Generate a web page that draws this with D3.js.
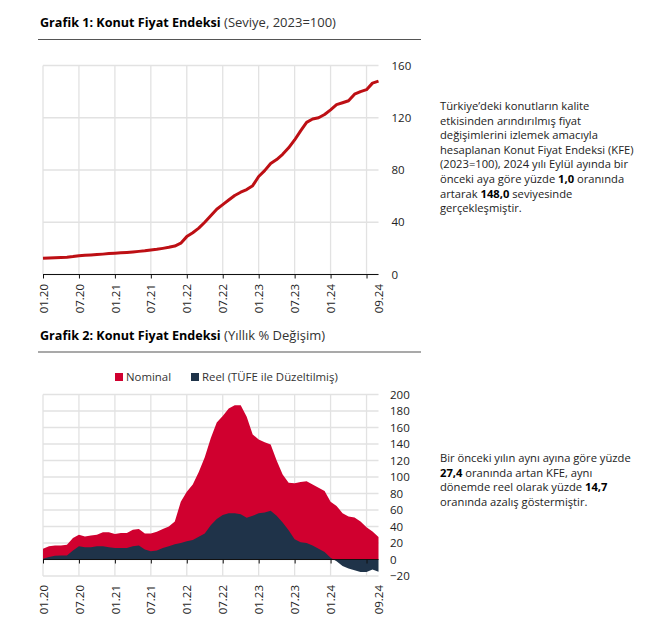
<!DOCTYPE html>
<html lang="en">

<head>
    <meta charset="UTF-8">
    <title>Konut Fiyat Endeksi</title>
    <style>
        body {
            margin: 0;
            background: #fff;
        }

        #page {
            position: relative;
            width: 669px;
            height: 629px;
            overflow: hidden;
            font-family: "Open Sans", sans-serif;
            color: #111;
        }

        svg {
            position: absolute;
            left: 0;
            top: 0;
        }

        .heading {
            position: absolute;
            left: 40px;
            font-size: 13px;
            color: #333;
            white-space: nowrap;
        }

        .heading b {
            color: #000;
            font-size: 12.6px;
        }

        .note {
            position: absolute;
            left: 440px;
            font-size: 11.2px;
            line-height: 14.6px;
            white-space: nowrap;
            color: #222;
        }

        .note b {
            color: #000;
        }

        .grid line {
            stroke: #e2e2e2;
            stroke-width: 1.3px;
        }

        .grid path {
            display: none;
        }

        .tick text {
            font-family: "Open Sans", sans-serif;
            font-size: 11.5px;
            fill: #222;
        }

        .legend text {
            font-size: 11.4px;
            fill: #333;
        }
    </style>
</head>

<body>
    <div id="page">
        <svg id="charts" width="669" height="629"></svg>
        <div class="heading" style="top:13px"><b>Grafik 1: Konut Fiyat Endeksi</b> (Seviye, 2023=100)</div>
        <div class="heading" style="top:326px"><b>Grafik 2: Konut Fiyat Endeksi</b> (Yıllık % Değişim)</div>
        <div class="note" style="top:99px">Türkiye’deki konutların kalite<br>etkisinden arındırılmış fiyat<br>değişimlerini izlemek amacıyla<br>hesaplanan Konut Fiyat Endeksi (KFE)<br>(2023=100), 2024 yılı Eylül ayında bir<br>önceki aya göre yüzde <b>1,0</b> oranında<br>artarak <b>148,0</b> seviyesinde<br>gerçekleşmiştir.</div>
        <div class="note" style="top:451px">Bir önceki yılın aynı ayına göre yüzde<br><b>27,4</b> oranında artan KFE, aynı<br>dönemde reel olarak yüzde <b>14,7</b><br>oranında azalış göstermiştir.</div>
    </div>
    <script src="https://cdnjs.cloudflare.com/ajax/libs/d3/7.9.0/d3.min.js"></script>
    <script>
        const months = [
            "01.20", "02.20", "03.20", "04.20", "05.20", "06.20", "07.20", "08.20", "09.20", "10.20", "11.20", "12.20",
            "01.21", "02.21", "03.21", "04.21", "05.21", "06.21", "07.21", "08.21", "09.21", "10.21", "11.21", "12.21",
            "01.22", "02.22", "03.22", "04.22", "05.22", "06.22", "07.22", "08.22", "09.22", "10.22", "11.22", "12.22",
            "01.23", "02.23", "03.23", "04.23", "05.23", "06.23", "07.23", "08.23", "09.23", "10.23", "11.23", "12.23",
            "01.24", "02.24", "03.24", "04.24", "05.24", "06.24", "07.24", "08.24", "09.24"
        ];
        const tickMonths = ["01.20", "07.20", "01.21", "07.21", "01.22", "07.22", "01.23", "07.23", "01.24", "07.24"];
        const labelMonths = ["01.20", "07.20", "01.21", "07.21", "01.22", "07.22", "01.23", "07.23", "01.24", "09.24"];

        const indexValues = [
            12.5, 12.7, 12.9, 13.0, 13.2, 13.7, 14.4, 14.8, 15.0, 15.3, 15.6, 16.0,
            16.3, 16.6, 16.9, 17.3, 17.7, 18.1, 18.8, 19.3, 20.0, 20.8, 21.8, 24.0,
            29.0, 32.0, 35.5, 40.0, 45.0, 50.0, 53.5, 57.0, 60.5, 63.0, 65.0, 68.0,
            75.0, 79.5, 85.0, 88.0, 92.0, 97.0, 103.0, 110.0, 116.5, 119.0, 120.0, 122.5,
            126.0, 130.0, 131.5, 133.0, 138.0, 140.0, 141.5, 146.5, 148.0
        ];
        const nominalValues = [
            13, 16, 17, 17, 18, 26, 30, 28, 29, 30, 33, 33,
            31, 32, 32, 36, 37, 31.5, 31.5, 33.5, 37, 40, 46, 70,
            82, 91, 106, 124, 147, 166, 174, 183, 187, 187, 173, 151.5,
            145.5, 142, 139.5, 120, 103, 93, 92.5, 94, 95, 91, 87, 83,
            70, 65, 56, 52, 51, 46, 39, 34, 27.4
        ];
        const realValues = [
            1, 3, 4.5, 5, 5, 11, 16, 15, 15, 16, 16, 15,
            14, 14, 14, 16, 17, 12, 10, 11, 14, 16, 18.5, 20,
            22, 23.5, 27.5, 31.5, 41.5, 49, 54, 56, 56, 55, 50.5, 53,
            56, 57, 59, 53, 45, 35.5, 24.5, 21, 20, 17, 13, 9,
            2, -2, -8, -11, -13, -15, -15, -12, -14.7
        ];
        const indexTicks = [0, 40, 80, 120, 160];
        const changeTicks = [-20, 0, 20, 40, 60, 80, 100, 120, 140, 160, 180, 200];
        const legendLabels = ["Nominal", "Reel (TÜFE ile Düzeltilmiş)"];

        const red = "#d0002f";
        const navy = "#1f3349";
        const svg = d3.select("#charts");

        const left = 43, right = 378.5;
        const x = d3.scalePoint().domain(months).range([left, right]);

        // heading rules
        svg.selectAll(".rule")
            .data([39.5, 352])
            .enter()
            .append("line")
            .attr("x1", 38)
            .attr("x2", 421)
            .attr("y1", d => d)
            .attr("y2", d => d)
            .attr("stroke", "#555")
            .attr("stroke-width", 1.2);

        function drawGrid(y, yTicks) {
            const [bottom, top] = y.range();
            svg.append("g")
                .attr("class", "grid")
                .selectAll("line.h")
                .data(yTicks)
                .enter()
                .append("line")
                .attr("x1", left)
                .attr("x2", right)
                .attr("y1", d => y(d))
                .attr("y2", d => y(d));
            svg.append("g")
                .attr("class", "grid")
                .selectAll("line.v")
                .data(tickMonths)
                .enter()
                .append("line")
                .attr("x1", d => x(d))
                .attr("x2", d => x(d))
                .attr("y1", bottom)
                .attr("y2", top);
        }

        function drawAxes(y, yTicks, zeroY, labelY, padding) {
            // y labels sit on the right with no axis line
            const yAxis = svg.append("g")
                .attr("transform", "translate(" + right + ",0)")
                .call(d3.axisRight(y).tickValues(yTicks).tickSize(0).tickPadding(padding));
            yAxis.select(".domain").remove();

            // base line with ticks at zero
            svg.append("g")
                .attr("transform", "translate(0," + zeroY + ")")
                .call(d3.axisBottom(x).tickValues(tickMonths).tickSize(4).tickFormat(""))
                .call(g => g.select(".domain").attr("d", "M" + left + ",0H" + right).attr("stroke", "#111"))
                .call(g => g.selectAll(".tick line").attr("stroke", "#111"));

            // rotated month labels
            svg.append("g")
                .attr("transform", "translate(0," + labelY + ")")
                .call(d3.axisBottom(x).tickValues(labelMonths).tickSize(0))
                .call(g => g.select(".domain").remove())
                .selectAll("text")
                .attr("transform", "rotate(-90)")
                .attr("text-anchor", "end")
                .attr("x", 0)
                .attr("y", 0)
                .attr("dy", "0.36em");
        }

        // Grafik 1
        const y1 = d3.scaleLinear().domain([0, 160]).range([274.5, 65.5]);
        drawGrid(y1, indexTicks);
        svg.append("path")
            .datum(indexValues)
            .attr("fill", "none")
            .attr("stroke", "#bd0f14")
            .attr("stroke-width", 3)
            .attr("stroke-linejoin", "round")
            .attr("d", d3.line().x((d, i) => x(months[i])).y(d => y1(d)));
        drawAxes(y1, indexTicks, y1(0), 284, 13);

        // Grafik 2
        const y2 = d3.scaleLinear().domain([-20, 200]).range([576, 394.5]);
        drawGrid(y2, changeTicks);
        const area = d3.area()
            .x((d, i) => x(months[i]))
            .y0(y2(0))
            .y1(d => y2(d));
        svg.append("path").datum(nominalValues).attr("fill", red).attr("d", area);
        svg.append("path").datum(realValues).attr("fill", navy).attr("d", area);
        drawAxes(y2, changeTicks, y2(0), 585, 11.5);

        // legend
        const legend = svg.append("g").attr("class", "legend");
        const legendX = [115, 191];
        legendLabels.forEach((label, i) => {
            legend.append("rect")
                .attr("x", legendX[i])
                .attr("y", 373)
                .attr("width", 8)
                .attr("height", 8)
                .attr("fill", i === 0 ? red : navy);
            legend.append("text")
                .attr("x", legendX[i] + 11)
                .attr("y", 381)
                .text(label);
        });
    </script>
</body>

</html>
